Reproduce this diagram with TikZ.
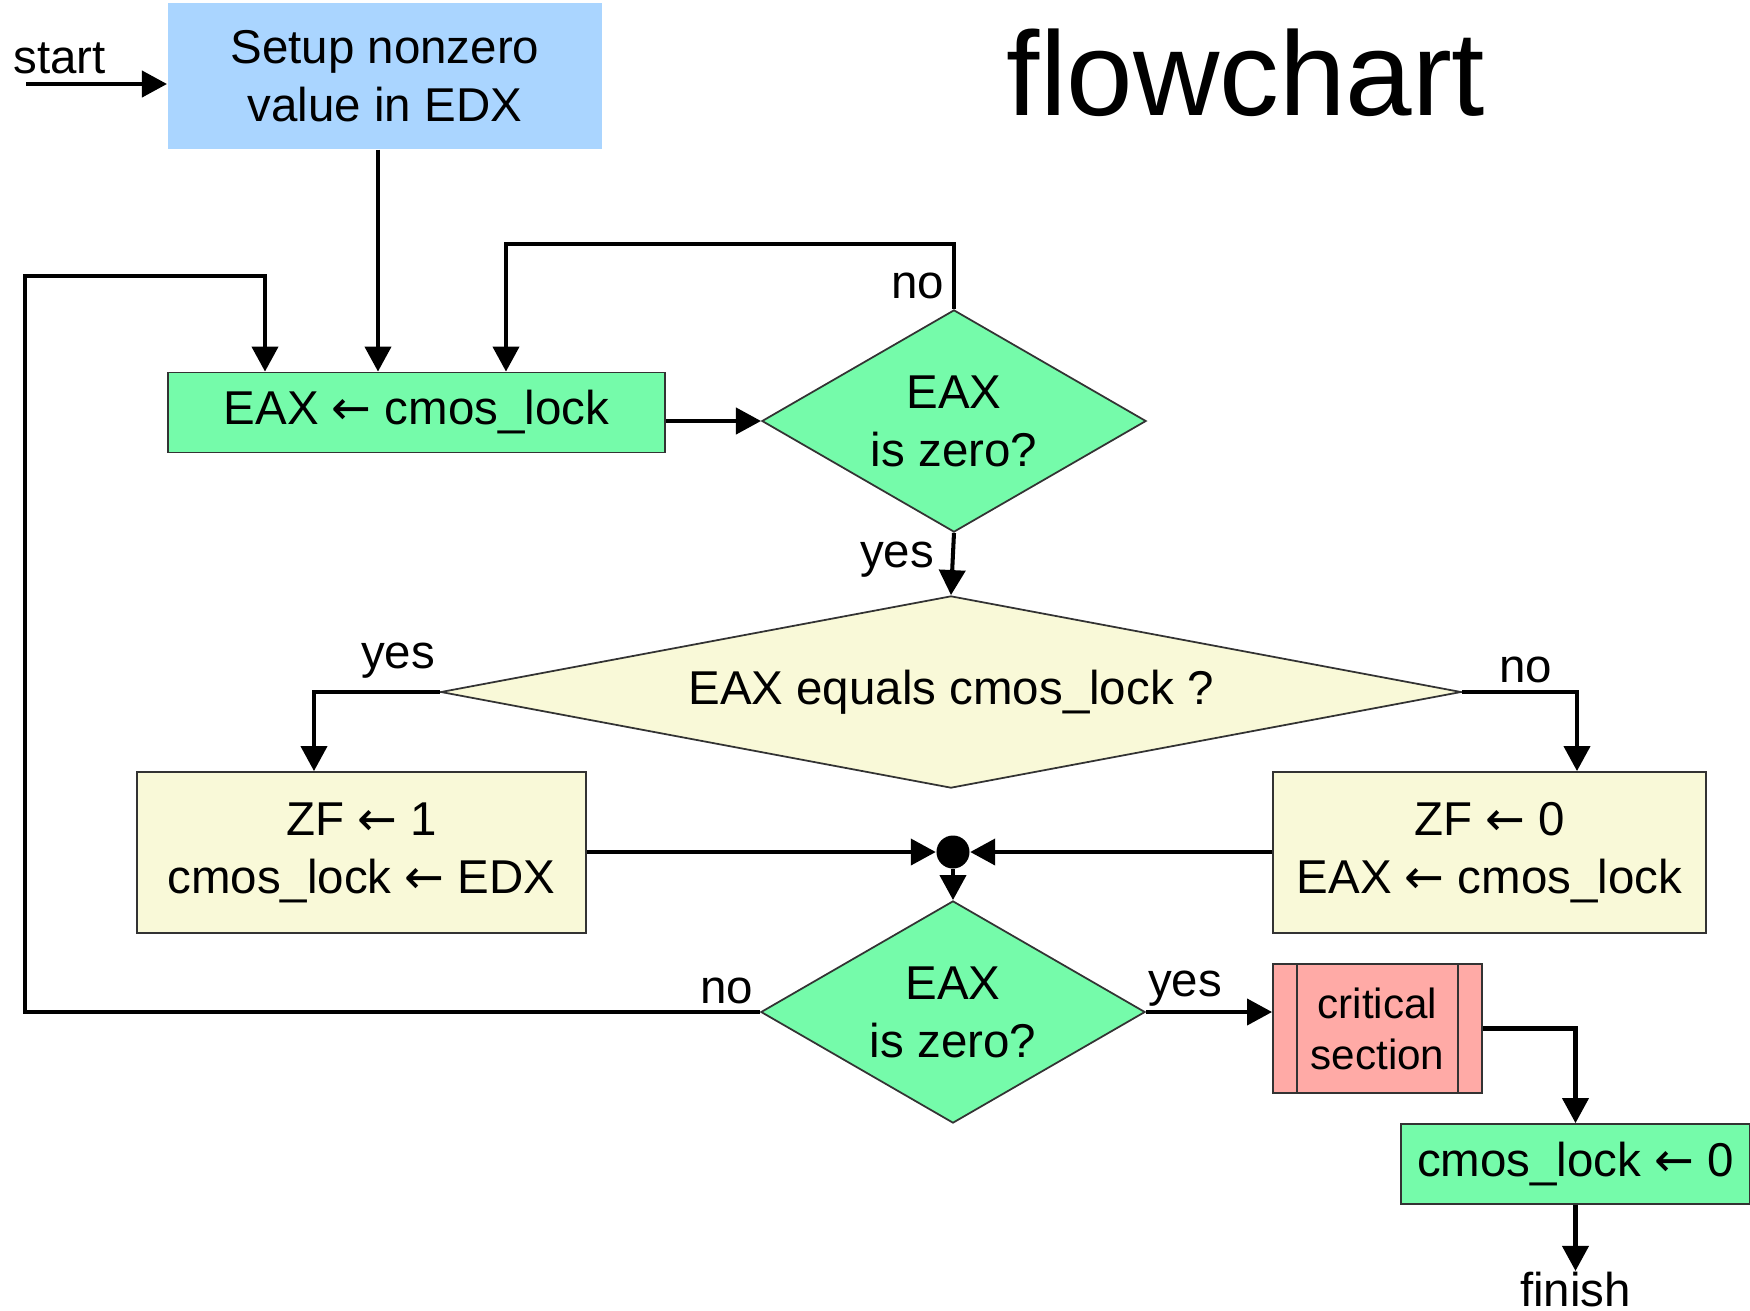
\documentclass[tikz,border=0pt]{standalone}
\usepackage{fontspec}
\setmainfont{Liberation Sans}
\newfontfamily\arrowfont{DejaVu Sans}
\newcommand{\assignarrow}{{\arrowfont ←}}
\usetikzlibrary{arrows.meta,positioning,shapes.geometric}
\definecolor{setupblue}{RGB}{170,213,255}
\definecolor{opgreen}{RGB}{117,251,170}
\definecolor{testcream}{RGB}{249,249,216}
\definecolor{critpink}{RGB}{255,170,166}

\begin{document}
\begin{tikzpicture}[
    x=0.01cm,
    y=-0.01cm,
    >={Triangle[length=0.25cm,width=0.26cm]},
    flow/.style={->,line width=1.15pt},
    box/.style={
        rectangle,
        draw=black!80,
        line width=0.5pt,
        inner sep=0pt,
        align=center,
        font=\fontsize{13.5}{16.5}\selectfont
    },
    test/.style={
        diamond,
        draw=black!80,
        line width=0.5pt,
        inner sep=0pt,
        align=center,
        font=\fontsize{13.5}{16.5}\selectfont
    },
    lbl/.style={
        anchor=base,
        inner sep=0pt,
        font=\fontsize{13.5}{16.5}\selectfont
    }
]
\useasboundingbox (0,0) rectangle (1750,1311);

\node[box,fill=setupblue,draw=none,minimum width=4.34cm,minimum height=1.46cm] (setup) at (385,76)
{Setup nonzero\\value in EDX};

\node[box,fill=opgreen,minimum width=4.97cm,minimum height=0.8cm] (load) at (416.5,412.5)
{EAX \assignarrow{} cmos\_lock};

\node[test,fill=opgreen,aspect=1.73,minimum width=3.84cm,minimum height=2.22cm] (zero1) at (954,421)
{EAX\\is zero?};

\node[test,fill=testcream,aspect=5.3,minimum width=10.2cm,minimum height=1.92cm] (equal) at (951,692)
{EAX equals cmos\_lock ?};

\node[box,fill=testcream,minimum width=4.49cm,minimum height=1.61cm] (setone) at (361.5,852.5)
{ZF \assignarrow{} 1\\cmos\_lock \assignarrow{} EDX};

\node[box,fill=testcream,minimum width=4.33cm,minimum height=1.61cm] (setzero) at (1489.5,852.5)
{ZF \assignarrow{} 0\\EAX \assignarrow{} cmos\_lock};

\node[circle,fill=black,inner sep=0pt,minimum size=0.33cm] (merge) at (953,852) {};

\node[test,fill=opgreen,aspect=1.73,minimum width=3.84cm,minimum height=2.22cm] (zero2) at (953,1012)
{EAX\\is zero?};

\node[box,fill=critpink,minimum width=2.09cm,minimum height=1.29cm,
    font=\fontsize{12}{14.5}\selectfont] (crit) at (1377.5,1028.5)
{critical\\section};

\node[box,fill=opgreen,minimum width=3.49cm,minimum height=0.8cm] (unlock) at (1575.5,1164)
{cmos\_lock \assignarrow{} 0};

\node[lbl,below=0.66cm of unlock] (finish) {finish};

\node[lbl] (startlbl) at (59.5,73) {start};
\node[lbl] (no1) at (918,298) {no};
\node[lbl] (yes1) at (897,567) {yes};
\node[lbl] (yes2) at (398,668) {yes};
\node[lbl] (no2) at (1526,682) {no};
\node[lbl] (no3) at (727,1003) {no};
\node[lbl] (yes3) at (1185,996) {yes};
\node[lbl,font=\fontsize{34}{40}\selectfont] (title) at (1246,115) {flowchart};

\draw[line width=0.5pt,draw=black!80] ([xshift=0.25cm]crit.north west) -- ([xshift=0.25cm]crit.south west);
\draw[line width=0.5pt,draw=black!80] ([xshift=-0.25cm]crit.north east) -- ([xshift=-0.25cm]crit.south east);

\coordinate (startpt) at (26,84);
\coordinate (feed) at ([xshift=-0.07cm]setup.south);
\coordinate (retry) at (506,244);
\coordinate (backloop) at (25,276);
\coordinate (backin) at (265,276);
\coordinate (yesdrop) at (314,692);
\coordinate (nodrop) at (1577,692);

\draw[flow] (startpt) -- (startpt -| setup.west);
\draw[flow] (feed) -- (feed |- load.north);
\draw[flow] (load.east |- zero1.west) -- (zero1.west);
\draw[flow] (zero1.north) |- (retry) -- (retry |- load.north);
\draw[flow] (zero1.south) -- (equal.north);
\draw[flow] (equal.west) -- (yesdrop) -- (yesdrop |- setone.north);
\draw[flow] (equal.east) -- (nodrop) -- (nodrop |- setzero.north);
\draw[flow] (setone.east |- merge) -- (merge.west);
\draw[flow] (setzero.west |- merge) -- (merge.east);
\draw[flow] (merge.south) -- (zero2.north);
\draw[flow] (zero2.west) -| (backloop) -- (backin) -- (backin |- load.north);
\draw[flow] (zero2.east) -- (zero2.east -| crit.west);
\draw[flow] (crit.east) -| (unlock.north);
\draw[flow] (unlock.south) -- (finish.north);

\end{tikzpicture}
\end{document}
